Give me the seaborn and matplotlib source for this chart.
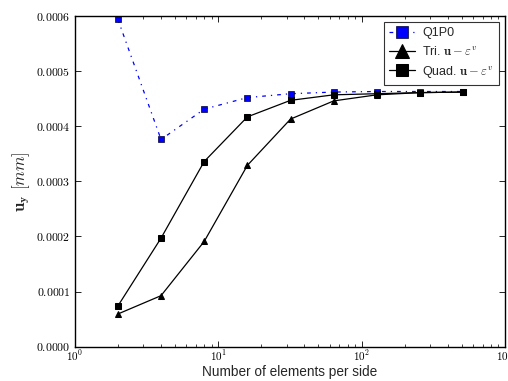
import matplotlib
matplotlib.use("Agg")
import matplotlib.pyplot as plt
import matplotlib.ticker as mticker
import numpy as np
import pandas as pd
import seaborn as sns

# Mesh refinement: number of elements per side
elements = [2, 4, 8, 16, 32, 64, 128, 256, 512]

# Vertical displacement u_y [mm] for each formulation
q1p0 = [0.000594, 0.000376, 0.000431, 0.000452, 0.000459, 0.000462, 0.000463, 0.000463, 0.000463]
tri_u_ev = [0.0000593, 0.0000926, 0.000191, 0.000329, 0.000413, 0.000446, 0.000457, 0.000461, 0.000462]
quad_u_ev = [0.0000738, 0.000197, 0.000336, 0.000417, 0.000447, 0.000457, 0.000459, 0.000461, 0.000462]

y_ticks = [0.0000, 0.0001, 0.0002, 0.0003, 0.0004, 0.0005, 0.0006]

sns.set_theme(style="ticks")
plt.rcParams.update({
    "font.family": ["Liberation Sans", "DejaVu Sans"],
    "mathtext.fontset": "cm",
    "xtick.direction": "in",
    "ytick.direction": "in",
    "xtick.top": True,
    "ytick.right": True,
    "xtick.major.size": 4,
    "ytick.major.size": 4,
    "xtick.minor.size": 2,
    "xtick.major.width": 0.6,
    "ytick.major.width": 0.6,
    "xtick.minor.width": 0.6,
    "axes.linewidth": 1.0,
    "axes.edgecolor": "black",
})

fig = plt.figure(figsize=(5.08, 3.81), dpi=100)
ax = fig.add_axes([0.147, 0.09, 0.847, 0.868])

sns.lineplot(x=elements, y=q1p0, ax=ax, color="blue", linestyle=(0, (3, 4, 1, 4)),
             linewidth=0.9, marker="s", markersize=4.5, markerfacecolor="blue",
             markeredgecolor="#000033", markeredgewidth=0.5, label="Q1P0",
             estimator=None)
sns.lineplot(x=elements, y=tri_u_ev, ax=ax, color="black", linewidth=0.9,
             marker="^", markersize=5, markerfacecolor="black",
             markeredgecolor="black", label=r"Tri. $\mathbf{u}-\varepsilon^v$",
             estimator=None)
sns.lineplot(x=elements, y=quad_u_ev, ax=ax, color="black", linewidth=0.9,
             marker="s", markersize=4.5, markerfacecolor="black",
             markeredgecolor="black", label=r"Quad. $\mathbf{u}-\varepsilon^v$",
             estimator=None)

ax.set_xscale("log")
ax.set_xlim(1, 1000)
ax.set_ylim(0, 0.0006)
ax.set_yticks(y_ticks)
ax.xaxis.set_minor_locator(mticker.LogLocator(base=10, subs=np.arange(2, 10)))
ax.xaxis.set_minor_formatter(mticker.NullFormatter())
ax.yaxis.set_major_formatter(mticker.FuncFormatter(lambda v, p: r"$%.4f$" % v))
ax.xaxis.set_major_formatter(mticker.FuncFormatter(
    lambda v, p: r"$10^{%d}$" % int(round(np.log10(v)))))
ax.tick_params(axis="y", which="major", labelsize=8.5, colors="black", pad=3)
ax.tick_params(axis="x", which="major", labelsize=8, colors="black", pad=1.5)
ax.tick_params(axis="x", which="minor", top=True, bottom=True, direction="in")

ax.set_xlabel("Number of elements per side", fontsize=9.8, labelpad=1)
ax.set_ylabel(r"$\mathbf{u}_\mathbf{y}\ [mm]$", fontsize=12)
ax.yaxis.set_label_coords(-0.1, 0.5)

leg = ax.legend(loc="upper right", numpoints=1, markerscale=1.9, fontsize=9,
                fancybox=False, frameon=True, handlelength=2.1,
                borderaxespad=0.5, labelspacing=0.45, handletextpad=0.6)
leg.get_frame().set_edgecolor("black")
leg.get_frame().set_linewidth(0.8)

fig.savefig("out.png", dpi=100)
